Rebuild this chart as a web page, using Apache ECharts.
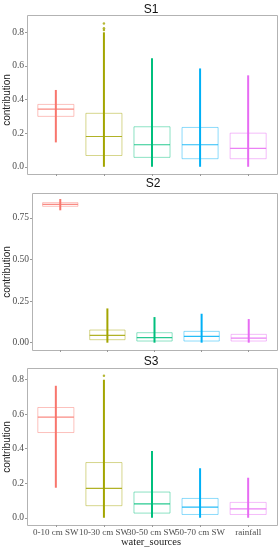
<!DOCTYPE html>
<html><head><meta charset="utf-8">
<script src="https://cdn.jsdelivr.net/npm/echarts@6/dist/echarts.min.js"></script>
<style>html,body{margin:0;padding:0;background:#fff}#c{width:280px;height:550px}</style>
</head><body><div id="c"></div>
<script>
const categories = ['0-10 cm SW','10-30 cm SW','30-50 cm SW','50-70 cm SW','rainfall'];
const colors = ['#F8766D','#A3A500','#00BF7D','#00B0F6','#E76BF3'];
const panelTitles = ['S1','S2','S3'];
// each row: [lower whisker, Q1, median, Q3, upper whisker]
const s1Box = [[0.145,0.300,0.343,0.371,0.457],[0.0,0.067,0.180,0.318,0.800],[0.0,0.056,0.131,0.238,0.645],[0.0,0.048,0.131,0.234,0.585],[0.0,0.048,0.109,0.200,0.544]];
const s1Outliers = [[1,0.814],[1,0.824],[1,0.853]];
const s2Box = [[0.796,0.820,0.832,0.842,0.864],[0.0,0.018,0.044,0.076,0.206],[0.0,0.010,0.030,0.060,0.154],[0.0,0.010,0.038,0.068,0.174],[0.0,0.010,0.028,0.050,0.142]];
const s2Outliers = [];
const s3Box = [[0.174,0.494,0.583,0.639,0.765],[0.0,0.070,0.170,0.320,0.800],[0.0,0.027,0.081,0.149,0.387],[0.0,0.019,0.062,0.112,0.287],[0.0,0.019,0.052,0.089,0.232]];
const s3Outliers = [[1,0.823]];
const y1Ticks = [0,0.2,0.4,0.6,0.8];
const y2Ticks = [0,0.25,0.5,0.75];
const y3Ticks = [0,0.2,0.4,0.6,0.8];

function rgba(hex,a){const n=parseInt(hex.slice(1),16);return 'rgba('+(n>>16&255)+','+(n>>8&255)+','+(n&255)+','+a+')';}
function renderBox(params, api){
  const x = api.value(0);
  const col = colors[x];
  const hw = api.size([1,0])[0]*0.75/2;
  const pLo = api.coord([x, api.value(1)]), pQ1 = api.coord([x, api.value(2)]),
        pMd = api.coord([x, api.value(3)]), pQ3 = api.coord([x, api.value(4)]),
        pHi = api.coord([x, api.value(5)]);
  const cx = pMd[0];
  return {type:'group', children:[
    {type:'rect', shape:{x:cx-hw, y:pQ3[1], width:2*hw, height:pQ1[1]-pQ3[1]}, style:{fill:'none', stroke:rgba(col,0.45), lineWidth:1}},
    {type:'line', shape:{x1:cx-hw,y1:pMd[1],x2:cx+hw,y2:pMd[1]}, style:{stroke:rgba(col,0.85), lineWidth:1.2}},
    {type:'line', shape:{x1:cx,y1:pLo[1],x2:cx,y2:pHi[1]}, style:{stroke:col, lineWidth:2}}
  ]};
}
const boxes = [s1Box, s2Box, s3Box];
const outliers = [s1Outliers, s2Outliers, s3Outliers];
const yTicks = [y1Ticks, y2Ticks, y3Ticks];
const yDigits = [1,2,1];
// panel frames (ggplot-like, categories padded 0.6 band from edges)
const frames = [
  {left:27, top:15, width:250, height:159},
  {left:32, top:193, width:245, height:157},
  {left:27, top:368, width:250, height:157}
];
const grids = frames.map(f=>{const u=f.width/5.2; return {left:f.left+0.1*u, top:f.top, width:5*u, height:f.height, inset:0.1*u};});
const yRange = [[-0.043,0.903],[-0.044,0.9],[-0.042,0.868]];
const serif = 'Liberation Serif';
const option = {
  animation:false,
  grid: grids.map(g=>({left:g.left, top:g.top, width:g.width, height:g.height, show:false})),
  xAxis: grids.map((g,i)=>({
    type:'category', gridIndex:i, data:categories, boundaryGap:true, position:'bottom',
    splitLine:{show:false}, axisLine:{show:false, onZero:false},
    axisTick:{show:true, length:2, alignWithLabel:true, interval:0, lineStyle:{color:'#999'}},
    axisLabel:{show:i===2, interval:0, fontFamily:serif, fontSize:9, color:'#4d4d4d', margin:3}
  })),
  yAxis: grids.map((g,i)=>({
    type:'value', gridIndex:i, min:yRange[i][0], max:yRange[i][1], position:'left', offset:g.inset,
    splitLine:{show:false}, axisLine:{show:false, onZero:false},
    axisTick:{show:true, length:2, customValues:yTicks[i], lineStyle:{color:'#999'}},
    axisLabel:{customValues:yTicks[i], formatter:v=>v.toFixed(yDigits[i]),
      fontFamily:serif, fontSize:9.5, color:'#4d4d4d', margin:3}
  })),
  series: [].concat(
    boxes.map((b,i)=>({type:'custom', xAxisIndex:i, yAxisIndex:i, renderItem:renderBox,
      encode:{x:0, y:[1,2,3,4,5]}, data:b.map((r,k)=>[k].concat(r)), z:2})),
    outliers.map((o,i)=>({type:'scatter', xAxisIndex:i, yAxisIndex:i, data:o, symbolSize:2.5,
      itemStyle:{color:colors[1]}, z:3}))
  ),
  graphic: frames.map(f=>({type:'rect', z:-1, shape:{x:f.left+0.5, y:f.top+0.5, width:f.width, height:f.height},
      style:{fill:'#fff', stroke:'#b3b3b3', lineWidth:1}})).concat([
    {type:'text', x:151, y:10, style:{text:panelTitles[0], font:'12px "Liberation Sans"', fill:'#111', align:'center', verticalAlign:'middle'}},
    {type:'text', x:153, y:184, style:{text:panelTitles[1], font:'12px "Liberation Sans"', fill:'#111', align:'center', verticalAlign:'middle'}},
    {type:'text', x:151, y:362, style:{text:panelTitles[2], font:'12px "Liberation Sans"', fill:'#111', align:'center', verticalAlign:'middle'}},
    {type:'text', x:7, y:100, rotation:Math.PI/2, style:{text:'contribution', font:'10px "Liberation Sans"', fill:'#222', align:'center', verticalAlign:'middle'}},
    {type:'text', x:7, y:272, rotation:Math.PI/2, style:{text:'contribution', font:'10px "Liberation Sans"', fill:'#222', align:'center', verticalAlign:'middle'}},
    {type:'text', x:7, y:447, rotation:Math.PI/2, style:{text:'contribution', font:'10px "Liberation Sans"', fill:'#222', align:'center', verticalAlign:'middle'}},
    {type:'text', x:151, y:542, style:{text:'water_sources', font:'10.5px "Liberation Serif"', fill:'#1a1a1a', align:'center', verticalAlign:'middle'}}
  ])
};
const chart = echarts.init(document.getElementById('c'), null, {renderer:'canvas'});
chart.setOption(option);
</script></body></html>
